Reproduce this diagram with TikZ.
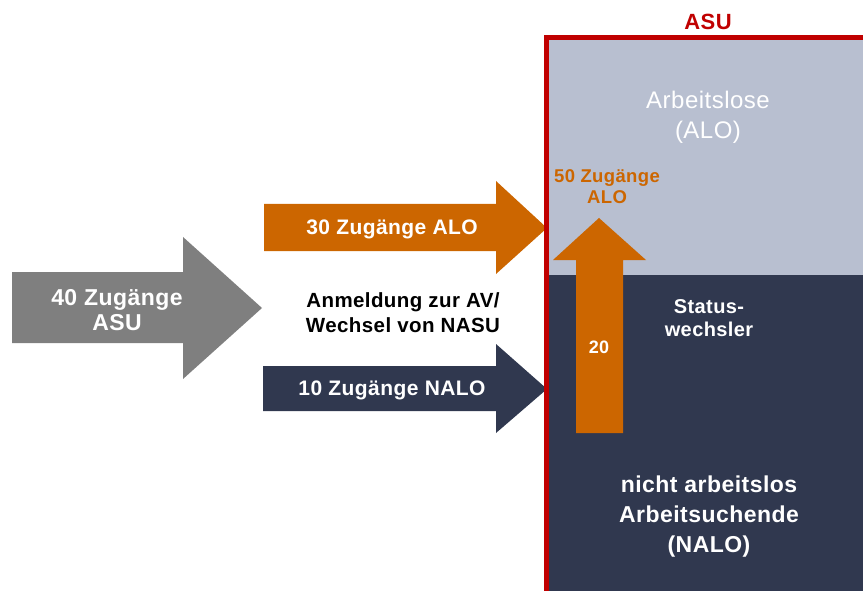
\documentclass[tikz,border=0pt]{standalone}
\usepackage{fontspec}
\setmainfont{Liberation Sans}[LetterSpace=2]
\usepackage{xcolor}
\definecolor{asured}{HTML}{C00000}
\definecolor{aloorange}{HTML}{CC6600}
\definecolor{nalonavy}{HTML}{30384F}
\definecolor{alolight}{HTML}{B8BFD0}
\definecolor{asugrey}{HTML}{7F7F7F}

\begin{document}
\begin{tikzpicture}[x=1pt,y=-1pt,
    whitebold/.style={text=white,font=\bfseries,align=center,inner sep=0pt},
    darkbold/.style={text=black,font=\bfseries,align=center,inner sep=0pt}]
\useasboundingbox (0,0) rectangle (863,591);

% ASU areas
\fill[alolight] (546,37) rectangle (863,275);
\fill[nalonavy] (546,275) rectangle (863,591);

% Incoming arrows
\fill[asugrey] (12,272) -- (183,272) -- (183,237) -- (262,308) -- (183,379) -- (183,343) -- (12,343) -- cycle;
\fill[aloorange] (264,204) -- (496,204) -- (496,181) -- (547,228) -- (496,274) -- (496,251) -- (264,251) -- cycle;
\fill[nalonavy] (263,366) -- (496,366) -- (496,344) -- (547,389) -- (496,433) -- (496,411) -- (263,411) -- cycle;

% Status change arrow
\fill[aloorange] (576,433) -- (576,260) -- (553,260) -- (599,218) -- (646,260) -- (623,260) -- (623,433) -- cycle;

% ASU frame
\draw[asured,line width=4.5pt] (546.5,600) -- (546.5,37.5) -- (870,37.5);

% Labels
\node[text=asured,font=\bfseries\fontsize{22}{24}\selectfont,inner sep=0pt] (asu) at (708,22) {ASU};
\node[text=white,font=\fontsize{24}{30}\selectfont,align=center,inner sep=0pt] (alo) at (708,117) {Arbeitslose\\(ALO)};
\node[whitebold,font=\bfseries\fontsize{23}{25}\selectfont] (zuASU) at (117,310) {40 Zugänge\\ASU};
\node[whitebold,font=\bfseries\fontsize{21}{24}\selectfont] (zuALO) at (392,229) {30 Zugänge ALO};
\node[whitebold,font=\bfseries\fontsize{21}{24}\selectfont] (zuNALO) at (392,390) {10 Zugänge NALO};
\node[darkbold,font=\bfseries\fontsize{20.5}{25}\selectfont] (anmeldung) at (403,313) {Anmeldung zur AV/\\Wechsel von NASU};
\node[darkbold,text=aloorange,font=\bfseries\fontsize{18.5}{21}\selectfont] (zuFuenfzig) at (607,187) {50 Zugänge\\ALO};
\node[whitebold,font=\bfseries\fontsize{18}{20}\selectfont] (zwanzig) at (599,347) {20};
\node[whitebold,font=\bfseries\fontsize{20}{23}\selectfont] (statusw) at (709,318) {Status-\\wechsler};
\node[whitebold,font=\bfseries\fontsize{23}{30}\selectfont] (nalo) at (709,517) {nicht arbeitslos\\Arbeitsuchende\\(NALO)};
\end{tikzpicture}
\end{document}
